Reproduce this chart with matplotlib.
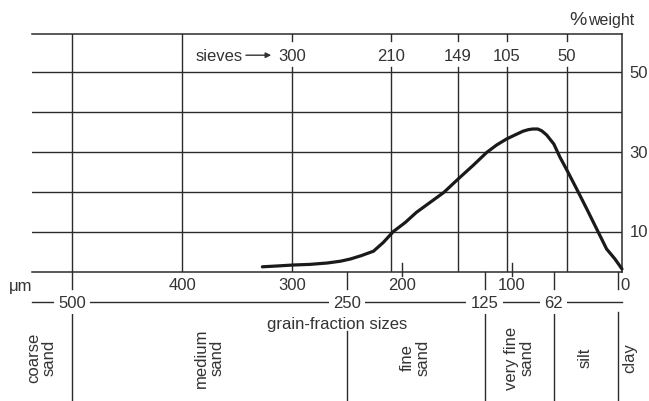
import matplotlib
matplotlib.use("Agg")
import matplotlib.pyplot as plt

plt.rcParams['font.family'] = ['Liberation Sans', 'DejaVu Sans']

# ---- data ----
sizes_um = [327, 314, 299, 284, 268, 256, 247, 237, 226, 217, 208, 197, 187, 174.5, 162,
            149, 135, 123, 114, 105, 97, 90, 85, 81, 76.6, 73, 68.5, 62, 56.4, 49, 41.2,
            32, 23, 14, 6.4, 0]
weight_pct = [1.3, 1.5, 1.75, 1.9, 2.25, 2.7, 3.25, 4.1, 5.2, 7.4, 10.1, 12.4, 14.9, 17.4, 19.9,
              23.25, 26.75, 29.9, 31.75, 33.25, 34.3, 35.2, 35.6, 35.75, 35.75, 35.3, 34.25, 32.0,
              28.7, 24.9, 20.75, 15.75, 10.75, 5.75, 3.25, 0.75]

sieves = [300, 210, 149, 105, 50]
full_lines = [500, 400]
weight_grid = [10, 20, 30, 40, 50]
weight_labels = [10, 30, 50]
um_ticks = [400, 300, 200, 100, 0]
um_small_ticks = [200, 100]
fraction_bounds = [500, 250, 125, 62, 4]
fraction_bound_labels = ["500", "250", "125", "62"]
fraction_names = ["coarse\nsand", "medium\nsand", "fine\nsand", "very fine\nsand", "silt", "clay"]

# ---- layout ----
W, H = 649, 402
LC = '#2b2b2b'
TC = '#333333'
FS = 12
fig = plt.figure(figsize=(W / 100, H / 100), dpi=100)
fig.patch.set_facecolor('white')

x_left_px, x_right_px = 32, 622
base_px, top_px = 273, 35
xlim = (536.5, 0)
ytop = 59.5

ax = fig.add_axes([x_left_px / W, (H - base_px) / H,
                   (x_right_px - x_left_px) / W, (base_px - top_px) / H])
ax.set_xlim(*xlim)
ax.set_ylim(0, ytop)
ax.set_xticks([]); ax.set_yticks([])
ax.spines['left'].set_visible(False)
for s in ['top', 'right', 'bottom']:
    ax.spines[s].set_color(LC)
    ax.spines[s].set_linewidth(1.1)

for g in weight_grid:
    ax.axhline(g, color=LC, lw=1.0, zorder=1)
for v in full_lines:
    ax.plot([v, v], [0, ytop], color=LC, lw=1.0, zorder=1)
for s in sieves:
    ax.plot([s, s], [0, 51.3], color=LC, lw=1.0, zorder=1)
    ax.plot([s, s], [57.7, ytop], color=LC, lw=1.0, zorder=1)
    ax.text(s, 54.2, str(s), ha='center', va='center', fontsize=FS, color=TC)
ax.text(345, 54.2, "sieves", ha='right', va='center', fontsize=FS, color=TC)
ax.annotate("", xy=(319, 54.2), xytext=(342, 54.2),
            arrowprops=dict(arrowstyle='-|>', color=TC, lw=1.0,
                            mutation_scale=8, shrinkA=0, shrinkB=0))
for w in weight_labels:
    ax.text(-7, w, str(w), ha='left', va='center', fontsize=FS, color=TC, clip_on=False)
ax.text(32, 62.0, "%", ha='right', va='baseline', fontsize=14, color=TC, clip_on=False)
ax.text(31, 62.0, "weight", ha='left', va='baseline', fontsize=11.5, color=TC, clip_on=False)

ax.plot(sizes_um, weight_pct, color='#1a1a1a', lw=2.3, solid_capstyle='round',
        solid_joinstyle='round', zorder=3, clip_on=False)

# ---- lower scale panel (y in pixels below baseline) ----
lx = fig.add_axes([x_left_px / W, 0, (x_right_px - x_left_px) / W, (H - base_px) / H])
lx.set_xlim(*xlim)
lx.set_ylim(H - base_px, 0)
lx.axis('off')

for b in fraction_bounds:
    lx.plot([b, b], [0, 17], color=LC, lw=1.0, clip_on=False)
for t in um_small_ticks:
    lx.plot([t, t], [-9, 4], color=LC, lw=1.0, clip_on=False)
for t in um_ticks:
    xt = t if t != 0 else -2.5
    lx.text(xt, 13, str(t), ha='center', va='center', fontsize=FS, color=TC, clip_on=False)
lx.text(547, 13, "μm", ha='center', va='center', fontsize=FS, color=TC, clip_on=False)

lx.plot([xlim[0], 0], [30, 30], color=LC, lw=1.0, clip_on=False)
for b, lab in zip(fraction_bounds, fraction_bound_labels):
    lx.text(b, 30.5, lab, ha='center', va='center', fontsize=FS, color=TC, clip_on=False,
            bbox=dict(boxstyle='square,pad=0.25', fc='white', ec='none'))

for b in fraction_bounds:
    start = 59 if b == 250 else 40
    lx.plot([b, b], [start, H - base_px], color=LC, lw=1.0, clip_on=False)

lx.text(259, 52, "grain-fraction sizes", ha='center', va='center', fontsize=FS,
        color=TC, clip_on=False)

label_x = [528, 375, 188, 93, 34, -7.5]
for xname, name in zip(label_x, fraction_names):
    lx.text(xname, 85, name, ha='center', va='center', rotation=90, fontsize=FS,
            color=TC, multialignment='center', linespacing=1.05, clip_on=False)

fig.savefig("out.png", dpi=100, facecolor='white')
